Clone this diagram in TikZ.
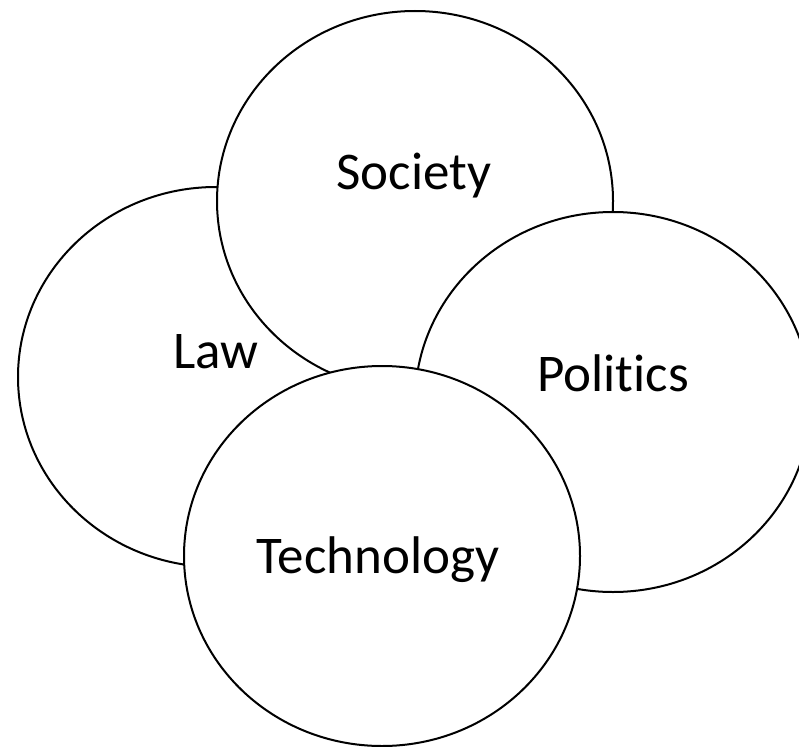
\documentclass[tikz,border=0pt]{standalone}
\usepackage{fontspec}
\setmainfont[Ligatures={NoCommon}]{Carlito}
\usepackage{tikz}
\usetikzlibrary{shapes.geometric}

\tikzset{
  topic/.style={draw,ellipse,fill=white,line width=2pt,inner sep=0pt,
    minimum width=396pt,minimum height=380pt},
  word/.style={anchor=base,font=\fontsize{53}{63}\selectfont}
}

\begin{document}
\begin{tikzpicture}[x=1pt,y=-1pt]
            \useasboundingbox (0,0) rectangle (799,746);
            % vier Kreise, der letzte liegt oben
            \node[topic] (law) at (216,377) {};
            \node[topic] (society) at (415,201) {};
            \node[topic] (politics) at (613,402) {};
            \node[topic] (tech) at (382,556) {};
            \node[word] (lawtext) at (216,368) {Law};
            \node[word] (societytext) at (414,189) {Society};
            \node[word] (politicstext) at (613,391) {Politics};
            \node[word] (techtext) at (378,573) {Technology};
        \end{tikzpicture}
\end{document}
